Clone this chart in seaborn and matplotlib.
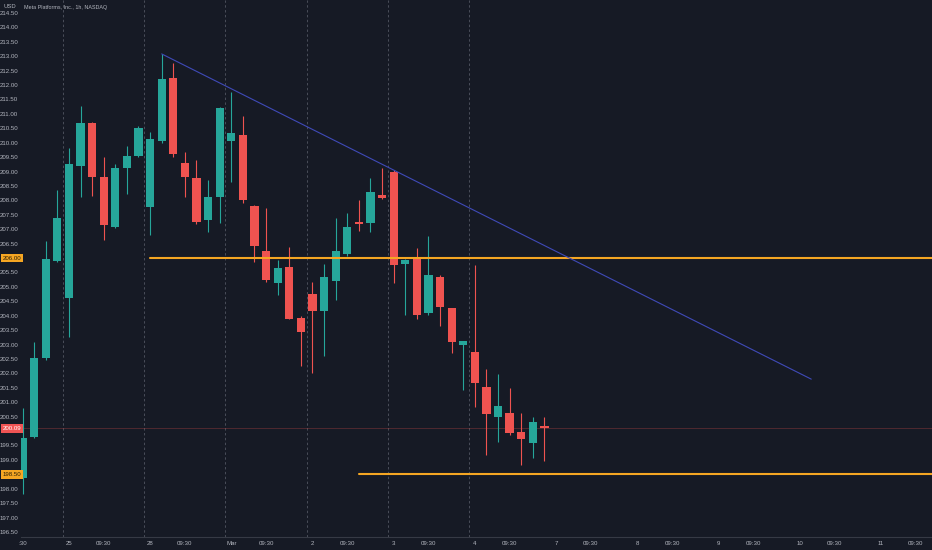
import matplotlib
matplotlib.use('Agg')
import matplotlib.pyplot as plt
import matplotlib.transforms as mtransforms
import numpy as np
import pandas as pd
import seaborn as sns

# hourly candles, Meta Platforms (NASDAQ), Feb 24 12:30 -> Mar 4 15:30
opens = [198.37, 199.78, 202.52, 205.91, 204.61, 209.20, 210.69, 208.82, 207.07, 209.13,
         209.54, 207.76, 210.05, 212.26, 209.31, 208.77, 207.32, 208.11, 210.07, 210.28,
         207.81, 206.24, 205.15, 205.70, 203.91, 204.75, 204.17, 205.20, 206.15, 207.26,
         207.21, 208.18, 208.97, 205.79, 205.96, 204.08, 205.35, 204.26, 202.97, 202.73,
         201.54, 200.48, 200.64, 199.98, 199.60, 200.17]
highs = [200.80, 203.10, 206.59, 208.36, 209.82, 211.28, 210.72, 209.49, 209.26, 209.89,
         210.58, 210.38, 213.08, 212.78, 209.67, 209.40, 208.71, 211.25, 211.77, 210.93,
         207.85, 207.73, 205.93, 206.39, 204.00, 205.18, 205.79, 207.38, 207.57, 208.01,
         208.79, 209.11, 209.05, 205.95, 206.34, 206.77, 205.40, 204.28, 203.12, 205.76,
         202.14, 201.97, 201.48, 200.62, 200.48, 200.48]
lows = [197.82, 199.75, 202.45, 205.88, 203.26, 208.13, 208.16, 206.63, 207.05, 208.22,
        209.50, 206.80, 210.00, 209.49, 208.11, 207.18, 206.91, 207.21, 208.65, 207.90,
        205.87, 205.18, 204.72, 203.87, 202.26, 202.02, 202.60, 204.55, 206.07, 206.95,
        206.91, 208.05, 205.12, 204.02, 203.89, 204.02, 203.64, 202.70, 201.42, 200.84,
        199.17, 199.61, 199.86, 198.82, 199.05, 198.97]
closes = [199.76, 202.52, 205.96, 207.40, 209.26, 210.67, 208.82, 207.14, 209.13, 209.54,
          210.52, 210.12, 212.20, 209.61, 208.80, 207.26, 208.13, 211.22, 210.33, 208.01,
          206.43, 205.24, 205.64, 203.89, 203.45, 204.17, 205.33, 206.24, 207.09, 207.18,
          208.29, 208.09, 205.76, 205.93, 204.02, 205.41, 204.29, 203.10, 203.11, 201.68,
          200.58, 200.87, 199.92, 199.72, 200.30, 200.09]

# time axis labels (bar index of each label)
tick_labels = [':30', '25', '09:30', '28', '09:30', 'Mar', '09:30', '2', '09:30', '3',
               '09:30', '4', '09:30', '7', '09:30', '8', '09:30', '9', '09:30', '10',
               '09:30', '11', '09:30']
tick_bars = [0, 4, 7, 11, 14, 18, 21, 25, 28, 32, 35, 39, 42, 46, 49, 53, 56, 60, 63,
             67, 70, 74, 77]
session_start_bars = [4, 11, 18, 25, 32, 39]

# drawings
level_prices = [206.00, 198.50]
level_from_bar = [11, 29]
trend_bars = [12, 68]
trend_prices = [213.08, 201.80]
last_price = 200.09
hidden_price_ticks = [206.00, 198.50, 200.00]  # covered by the tags

BG = '#161a25'
TXT = '#b2b5be'
UP = '#26a69a'
DOWN = '#ef5350'
ORANGE = '#f5a623'

sns.set_theme(style='dark', rc={
    'axes.facecolor': BG,
    'figure.facecolor': BG,
    'axes.edgecolor': '#2a2e39',
    'text.color': TXT,
    'xtick.color': TXT,
    'ytick.color': TXT,
})
plt.rcParams['font.family'] = ['Liberation Sans Narrow', 'Liberation Sans', 'DejaVu Sans']

df = pd.DataFrame({'open': opens, 'high': highs, 'low': lows, 'close': closes})
df['bar'] = np.arange(len(df))
df['up'] = df['close'] >= df['open']
df['color'] = np.where(df['up'], UP, DOWN)

fig = plt.figure(figsize=(9.32, 5.5), dpi=100)
ax = fig.add_axes([21 / 932, 13 / 550, 911 / 932, 537 / 550])

# session breaks
for b in session_start_bars:
    ax.axvline(b - 0.5, color='#4a4e5a', lw=0.7, ls=(0, (2.5, 2.5)), zorder=1)

# last price line
ax.axhline(last_price, color=DOWN, alpha=0.3, lw=0.6, zorder=1)

# candles
ax.vlines(df['bar'], df['low'], df['high'], colors=df['color'], lw=0.8, zorder=3)
ax.bar(df['bar'], (df['close'] - df['open']).abs().clip(lower=0.05),
       bottom=df[['open', 'close']].min(axis=1), width=0.72, color=df['color'],
       linewidth=0, zorder=4)

# horizontal levels
xmax = 78.41
for price, start in zip(level_prices, level_from_bar):
    seg = pd.DataFrame({'bar': [start, xmax], 'price': [price, price]})
    sns.lineplot(data=seg, x='bar', y='price', color=ORANGE, lw=1.5, ax=ax, zorder=5)

# trend line
trend = pd.DataFrame({'bar': trend_bars, 'price': trend_prices})
sns.lineplot(data=trend, x='bar', y='price', color='#3f4ab8', lw=0.8, ax=ax, zorder=5)

ax.set_xlim(-0.13, xmax)
ax.set_ylim(196.325, 214.95)
ax.set_xlabel('')
ax.set_ylabel('')
ax.grid(False)

yt = [v for v in np.arange(196.5, 214.51, 0.5)
      if not any(abs(v - h) < 1e-6 for h in hidden_price_ticks)]
ax.set_yticks(yt)
ax.set_yticklabels([f'{v:.2f}' for v in yt])
ax.set_xticks(tick_bars)
ax.set_xticklabels(tick_labels)
ax.tick_params(axis='y', length=0, pad=2, labelsize=4.4)
ax.tick_params(axis='x', length=0, pad=3, labelsize=4.4)

for side in ['top', 'right', 'left']:
    ax.spines[side].set_visible(False)
ax.spines['bottom'].set_color('#363a45')
ax.spines['bottom'].set_linewidth(0.8)

# price tags on the scale
tag = mtransforms.blended_transform_factory(fig.transFigure, ax.transData)
for price in level_prices:
    fig.text(3 / 932, price, f'{price:.2f}', transform=tag, fontsize=4.4, color='#2a1e05',
             va='center', ha='left', zorder=10,
             bbox=dict(boxstyle='square,pad=0.3', fc=ORANGE, ec='none'))
fig.text(3 / 932, last_price, f'{last_price:.2f}', transform=tag, fontsize=4.4,
         color='white', va='center', ha='left', zorder=10,
         bbox=dict(boxstyle='square,pad=0.3', fc='#f05454', ec='none'))

fig.text(3 / 932, 1 - 7 / 550, 'USD', fontsize=4.2, color=TXT, va='center', ha='left')
fig.text(24 / 932, 1 - 7 / 550, 'Meta Platforms, Inc., 1h, NASDAQ', fontsize=3.9,
         color=TXT, va='center', ha='left')

fig.savefig('out.png', dpi=100, facecolor=BG)
